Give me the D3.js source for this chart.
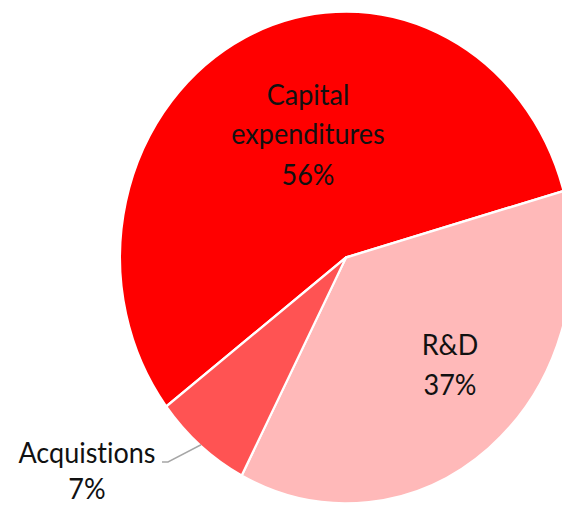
<!DOCTYPE html>
<html>
<head>
<meta charset="utf-8">
<script src="https://cdn.jsdelivr.net/npm/d3@7"></script>
<style>
  html, body { margin: 0; padding: 0; background: #fff; }
  svg { display: block; }
  text { font-variant-ligatures: none; font-feature-settings: "liga" 0; }
</style>
</head>
<body>
<svg id="chart" width="562" height="505"></svg>
<script>
// Spending breakdown (percent of total)
const categories = ["Capital expenditures", "R&D", "Acquistions"];
const values = [56, 37, 7];
const colors = ["#ff0000", "#ffb9b9", "#ff5353"];

const W = 562, H = 505;
const sy = 1.088;              // the pie is drawn slightly taller than wide
const cx = 346, cy = 257.5 / sy, r = 226;

const svg = d3.select("#chart");
const g = svg.append("g").attr("transform", `scale(1, ${sy})`);

const pie = d3.pie()
  .sort(null)
  .value(d => d)
  .startAngle(-127.3 * Math.PI / 180)
  .endAngle(232.7 * Math.PI / 180);

const arc = d3.arc().innerRadius(0).outerRadius(r);

const slices = g.append("g").attr("transform", `translate(${cx},${cy})`);
slices.selectAll("path")
  .data(pie(values))
  .join("path")
  .attr("d", arc)
  .attr("fill", (d, i) => colors[i])
  .attr("stroke", "#fff")
  .attr("stroke-width", 2.2)
  .attr("stroke-linejoin", "round");

// Leader line for the small slice
const acq = pie(values)[2];
const mid = (acq.startAngle + acq.endAngle) / 2;
const edge = [cx + Math.sin(mid) * (r - 1), cy - Math.cos(mid) * (r - 1)];
g.append("polyline")
  .attr("points", [[162, 462 / sy], [168, 462 / sy], edge].map(p => p.join(",")).join(" "))
  .attr("fill", "none")
  .attr("stroke", "#a6a6a6")
  .attr("stroke-width", 1.3);

// Data labels: category name and percentage
const labels = [
  { lines: ["Capital", "expenditures", values[0] + "%"], x: 308, y: [105, 144, 185] },
  { lines: ["R&D", values[1] + "%"], x: 450, y: [355, 395] },
  { lines: [categories[2], values[2] + "%"], x: 87, y: [463, 499] }
];

labels.forEach(l => {
  l.lines.forEach((t, i) => {
    g.append("text")
      .attr("x", l.x)
      .attr("y", l.y[i] / sy)
      .attr("text-anchor", "middle")
      .attr("font-family", "Lato, 'Open Sans', sans-serif")
      .attr("font-size", 27)
      .attr("fill", "#111")
      .text(t);
  });
});
</script>
</body>
</html>
